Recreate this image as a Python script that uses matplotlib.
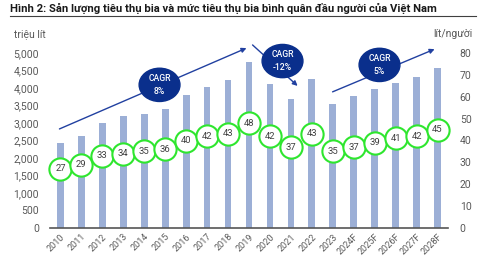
import matplotlib
matplotlib.use("Agg")
import matplotlib.pyplot as plt
from matplotlib.patches import Ellipse
from matplotlib.ticker import FuncFormatter

years = ['2010', '2011', '2012', '2013', '2014', '2015', '2016', '2017', '2018', '2019',
         '2020', '2021', '2022', '2023', '2024F', '2025F', '2026F', '2027F', '2028F']
# beer consumption, million litres (left axis)
volume = [2430, 2630, 3000, 3200, 3260, 3410, 3790, 4020, 4230, 4730,
          4110, 3690, 4250, 3530, 3770, 3960, 4130, 4310, 4580]
# per capita consumption, litres/person (right axis)
per_capita = [27, 29, 33, 34, 35, 36, 40, 42, 43, 48,
              42, 37, 43, 35, 37, 39, 41, 42, 45]

plt.rcParams['font.family'] = ['Roboto', 'DejaVu Sans']

bar_color = '#9cafd6'
navy = '#0a2f8c'
arrow_color = '#2140a0'
green = '#2ee62e'
tick_color = '#595959'

fig = plt.figure(figsize=(4.8, 2.7), dpi=100)
ax = fig.add_axes([50 / 480, 42 / 270, 398 / 480, 175 / 270])
ax2 = ax.twinx()

x = list(range(len(years)))
ax.bar(x, volume, width=0.32, color=bar_color, zorder=2)
ax.set_xlim(-0.5, len(years) - 0.5)
ax.set_ylim(0, 5000)
ax.set_yticks(range(0, 5001, 500))
ax.yaxis.set_major_formatter(FuncFormatter(lambda v, p: f'{int(v):,}'))
ax.set_xticks(x)
ax.set_xticklabels(years, rotation=45, ha='right', rotation_mode='anchor')

ax2.set_ylim(0, 80)
ax2.set_yticks(range(0, 81, 10))
ax2.plot(x, per_capita, linestyle='none', marker='o', markersize=16,
         markerfacecolor='white', markeredgecolor=green, markeredgewidth=1.5,
         zorder=4, clip_on=False)
for xi, v in zip(x, per_capita):
    ax2.text(xi, v, str(v), ha='center', va='center', fontsize=6.8,
             color='#404040', zorder=5)

for a in (ax, ax2):
    for s in a.spines.values():
        s.set_visible(False)
    a.tick_params(length=0, labelsize=7.5, colors=tick_color)
# baseline along the bottom of the plot area
fig.add_artist(plt.Line2D([0, 1], [0, 0], transform=ax.transAxes,
                          color='#555555', lw=1.2))
ax.tick_params(axis='x', labelsize=6.5, pad=3)
ax.tick_params(axis='y', pad=8)
ax2.tick_params(axis='y', pad=8.5)

# CAGR arrows and badges
arrows = [((-0.05, 2830), (8.88, 5140)),
          ((9.17, 5230), (11.32, 4060)),
          ((12.99, 3890), (17.86, 5110))]
for start, end in arrows:
    ax.annotate('', xy=end, xytext=start, zorder=6, annotation_clip=False,
                arrowprops=dict(arrowstyle='-|>', color=arrow_color, lw=1.0,
                                mutation_scale=7, shrinkA=0, shrinkB=0))
badges = [(4.73, 4090, 'CAGR\n8%'), (10.6, 4770, 'CAGR\n-12%'), (15.23, 4660, 'CAGR\n5%')]
for bx, by, txt in badges:
    ax.add_patch(Ellipse((bx, by), 1.95, 950, color=navy, zorder=7, clip_on=False))
    ax.text(bx, by, txt, ha='center', va='center', color='white', fontsize=6.2,
            fontweight='medium', linespacing=1.6, zorder=8)

fig.text(10 / 480, 1 - 8 / 270, 'Hình 2: Sản lượng tiêu thụ bia và mức tiêu thụ bia bình quân đầu người của Việt Nam',
         fontsize=8.1, fontweight='bold', color='#1a1a1a', va='center', ha='left')
fig.add_artist(plt.Line2D([10 / 480, 476 / 480], [1 - 16 / 270, 1 - 16 / 270],
                          color='#404040', lw=0.8))
fig.text(14 / 480, 1 - 34 / 270, 'triệu lít', fontsize=7.5, color=tick_color, va='center', ha='left')
fig.text(472 / 480, 1 - 34 / 270, 'lít/người', fontsize=7.5, color=tick_color, va='center', ha='right')

fig.savefig('out.png', dpi=100)
